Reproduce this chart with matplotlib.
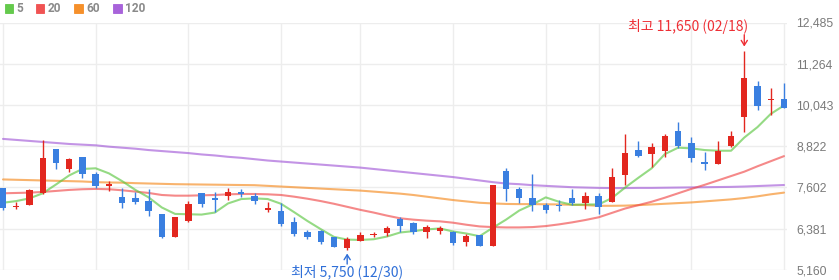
import matplotlib
matplotlib.use("Agg")
import matplotlib.pyplot as plt
from matplotlib.patches import Rectangle
import numpy as np

# Daily candles (oldest -> newest)
opens = [7580, 7020, 7080, 7430, 8730, 8140, 8490, 8000, 7650, 7330,
         7280, 7210, 6810, 6145, 6620, 7430, 7280, 7360, 7480, 7360,
         6940, 6910, 6570, 6280, 6320, 6145, 5820, 6030, 6200, 6260,
         6660, 6540, 6290, 6300, 6290, 6000, 6190, 5880, 8100, 7550,
         7280, 7080, 7080, 7280, 7150, 7350, 7180, 7970, 8710, 8590,
         8690, 9270, 8910, 8350, 8300, 8840, 9700, 10600, 10200, 10230]
highs = [7600, 7180, 7560, 9000, 8740, 8470, 8500, 8070, 7790, 7580,
         7480, 7560, 6810, 6740, 7210, 7440, 7460, 7580, 7560, 7430,
         7160, 7130, 6720, 6340, 6330, 6150, 6130, 6290, 6290, 6470,
         6740, 6590, 6490, 6460, 6320, 6220, 6200, 7680, 8170, 7610,
         8000, 7130, 7230, 7550, 7460, 7430, 8170, 9180, 8990, 8910,
         9190, 9530, 9090, 8640, 8980, 9270, 11650, 10750, 10540, 10690]
lows = [6950, 6960, 7080, 7400, 8140, 8070, 7870, 7600, 7510, 6990,
        7100, 6770, 6100, 6140, 6570, 7030, 6870, 7230, 7310, 7100,
        6890, 6470, 6170, 6070, 5930, 5840, 5750, 6030, 6130, 6170,
        6290, 6220, 6100, 6220, 5900, 5870, 5870, 5870, 7210, 7130,
        6910, 6840, 6910, 7080, 6960, 6820, 7180, 7680, 8510, 8220,
        8510, 8780, 8370, 8120, 8300, 8810, 9250, 9910, 9750, 9960]
closes = [6990, 7050, 7530, 8470, 8320, 8440, 7990, 7645, 7700, 7150,
          7160, 6910, 6140, 6740, 7100, 7100, 7230, 7480, 7400, 7210,
          6990, 6510, 6220, 6140, 6000, 5850, 6070, 6190, 6230, 6410,
          6460, 6280, 6420, 6390, 5950, 6170, 5880, 7680, 7550, 7300,
          7070, 6930, 7040, 7130, 7350, 7030, 7900, 8610, 8540, 8790,
          9130, 8840, 8480, 8290, 8690, 9130, 10830, 10000, 10230, 9960]

# Moving averages
ma5 = [7150, 7200, 7280, 7430, 7690, 7960, 8150, 8170, 8020, 7790,
       7530, 7310, 7010, 6820, 6810, 6800, 6860, 7130, 7260, 7280,
       7260, 7120, 6870, 6610, 6370, 6140, 6060, 6050, 6070, 6150,
       6270, 6310, 6360, 6390, 6300, 6240, 6160, 6410, 6650, 6920,
       7100, 7310, 7180, 7090, 7100, 7100, 7290, 7600, 7890, 8170,
       8590, 8780, 8760, 8710, 8690, 8690, 9080, 9390, 9780, 10030]
ma20 = [7430, 7440, 7450, 7470, 7500, 7530, 7550, 7560, 7550, 7520,
        7480, 7440, 7380, 7360, 7360, 7370, 7380, 7400, 7410, 7410,
        7400, 7380, 7330, 7270, 7200, 7120, 7030, 6940, 6860, 6770,
        6690, 6650, 6620, 6600, 6560, 6500, 6450, 6430, 6420, 6420,
        6430, 6460, 6510, 6570, 6640, 6720, 6850, 6980, 7080, 7180,
        7300, 7430, 7560, 7680, 7810, 7940, 8070, 8230, 8380, 8530]
ma60 = [7840, 7830, 7820, 7810, 7800, 7790, 7780, 7760, 7750, 7745,
        7730, 7720, 7710, 7700, 7695, 7690, 7685, 7680, 7675, 7670,
        7650, 7630, 7610, 7590, 7570, 7550, 7530, 7510, 7480, 7450,
        7420, 7380, 7330, 7280, 7230, 7190, 7150, 7130, 7115, 7110,
        7110, 7105, 7100, 7090, 7080, 7060, 7060, 7065, 7080, 7100,
        7120, 7140, 7160, 7190, 7220, 7250, 7290, 7340, 7400, 7450]
ma120 = [9040, 9010, 8980, 8950, 8920, 8890, 8870, 8850, 8810, 8780,
         8750, 8710, 8680, 8650, 8620, 8580, 8550, 8510, 8480, 8440,
         8400, 8370, 8340, 8310, 8280, 8250, 8220, 8190, 8150, 8110,
         8070, 8030, 7990, 7950, 7910, 7860, 7810, 7760, 7720, 7700,
         7670, 7650, 7630, 7610, 7600, 7590, 7585, 7585, 7590, 7590,
         7595, 7600, 7605, 7610, 7615, 7620, 7630, 7645, 7660, 7675]

ma_periods = ["5", "20", "60", "120"]
y_ticks = [5160, 6381, 7602, 8822, 10043, 11264, 12485]
v_grid = [0, 7, 14, 21, 27, 34, 41, 45, 52, 59]

high_idx, high_val, high_label = 56, 11650, "최고 11,650 (02/18)"
low_idx, low_val, low_label = 26, 5750, "최저 5,750 (12/30)"

UP = "#e2271f"
DOWN = "#3a7fe0"
MA_COLORS = ["#5cc742", "#f04a4a", "#f58a1f", "#a35bd8"]
GRID = "#ededed"
CJK = ["Noto Sans CJK KR", "DejaVu Sans"]

W, H = 839, 280
fig = plt.figure(figsize=(W / 100, H / 100), dpi=100)
ax = fig.add_axes([0 / W, 10 / H, 787 / W, 247.5 / H])
n = len(closes)
x = np.arange(n)
ax.set_xlim(-0.227, n - 1 + 0.227)
ax.set_ylim(y_ticks[0], y_ticks[-1])

for s in ax.spines.values():
    s.set_visible(False)
for v in y_ticks:
    ax.axhline(v, color=GRID, lw=1.0, zorder=0)
for g in v_grid:
    ax.axvline(g, color=GRID, lw=1.0, zorder=0)

ax.set_xticks([])
ax.yaxis.tick_right()
ax.set_yticks(y_ticks)
ax.set_yticklabels([f"{v:,}" for v in y_ticks], fontfamily="Liberation Sans",
                   fontsize=8.8, color="#7a7a7a")
ax.tick_params(axis="y", length=0, pad=6.5)

# moving averages
for vals, col in zip([ma120, ma60, ma20, ma5], MA_COLORS[::-1]):
    ax.plot(x, vals, color=col, lw=1.5, alpha=0.65, zorder=2,
            solid_capstyle="round")

# candles
o = np.array(opens); c = np.array(closes)
hi = np.array(highs); lo = np.array(lows)
cols = [UP if cc >= oo else DOWN for oo, cc in zip(o, c)]
ax.vlines(x, lo, hi, colors=cols, lw=1.0, zorder=3)
body_bottom = np.minimum(o, c)
body_h = np.maximum(np.abs(c - o), 35)
ax.bar(x, body_h, bottom=body_bottom, width=0.48, color=cols, lw=0, zorder=4)

# high / low markers
hc = "#ee2f35"
lc = "#2f6fd8"
ax.annotate("", xy=(high_idx, high_val), xytext=(0, 16), textcoords="offset pixels",
            arrowprops=dict(arrowstyle="->,head_length=0.35,head_width=0.22",
                            color=hc, lw=1.0, shrinkA=0, shrinkB=3))
ax.annotate(high_label, xy=(high_idx, high_val), xytext=(4, 24),
            textcoords="offset pixels", ha="right", va="center",
            color=hc, fontsize=10, family=CJK)
ax.annotate("", xy=(low_idx, low_val), xytext=(0, -14), textcoords="offset pixels",
            arrowprops=dict(arrowstyle="->,head_length=0.35,head_width=0.22",
                            color=lc, lw=1.0, shrinkA=0, shrinkB=2.5))
ax.annotate(low_label, xy=(low_idx, low_val), xytext=(0, -22),
            textcoords="offset pixels", ha="center", va="center",
            color=lc, fontsize=10, family=CJK, annotation_clip=False)

# legend row
sq_x = [4.7, 35.7, 74.3, 113.3]
for px, lab, col in zip(sq_x, ma_periods, MA_COLORS):
    fig.patches.append(Rectangle((px / W, 1 - 13.3 / H), 8.7 / W, 9 / H,
                                 transform=fig.transFigure, facecolor=col,
                                 edgecolor=col, lw=0.6, alpha=0.95))
    fig.text((px + 12) / W, 1 - 9 / H, lab, ha="left", va="center",
             fontsize=8.6, fontweight="bold", color="#8a8a8a", family="Roboto")

fig.savefig("out.png", dpi=100)
